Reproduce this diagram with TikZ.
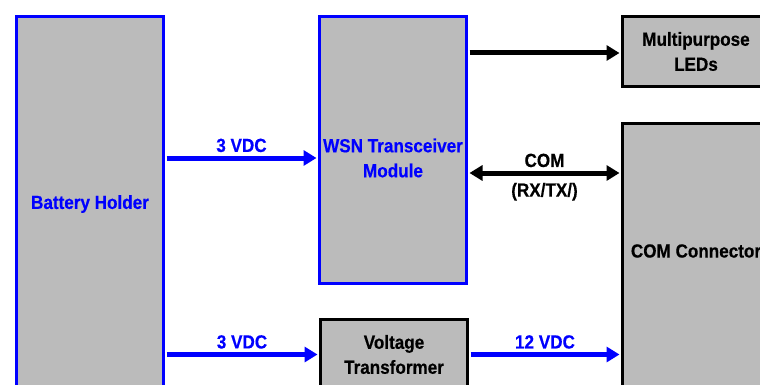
\documentclass[tikz,border=0pt]{standalone}
\usepackage{fontspec}
\setmainfont{Liberation Sans}[FakeStretch=0.9, BoldFeatures={FakeBold=0.4}]
\usetikzlibrary{arrows.meta}
\definecolor{boxgray}{HTML}{BBBBBB}

\begin{document}
\begin{tikzpicture}[x=1pt, y=-1pt,
  font=\fontsize{19}{25}\selectfont\bfseries,
  blk/.style={rectangle, draw, line width=3pt, fill=boxgray, minimum width=147pt, align=center},
  bigtri/.tip={Triangle[length=13pt, width=15pt]},
  pwr/.style={-bigtri, line width=5pt, blue, shorten <=1.5pt, shorten >=1.5pt},
  sig/.style={-bigtri, line width=5pt, shorten <=1.5pt, shorten >=1.5pt}]
  \clip (0,0) rectangle (760,385);

  \node[blk, draw=blue, text=blue, minimum height=375pt] (bat) at (90,204) {Battery Holder};
  \node[blk, draw=blue, minimum height=267pt,
        label={[text=blue, align=center, yshift=-8pt]center:{WSN Transceiver\\Module}}] (wsn) at (393,150) {};
  \node[blk, minimum height=70pt] (leds) at (696,51.5) {Multipurpose\\LEDs};
  \node[blk, minimum height=268pt,
        label={[yshift=6.5pt]center:COM Connector}] (com) at (696,257.5) {};
  \node[blk, minimum height=70pt] (vt) at (394,354.5) {Voltage\\Transformer};

  \coordinate (win) at ([yshift=-8pt]wsn.west);
  \coordinate (lin) at ([yshift=-1.5pt]leds.west);
  \coordinate (cin) at ([yshift=84.5pt]com.west);

  \draw[pwr] (bat.east |- win) -- node[above] {3 VDC} (win);
  \draw[pwr] (bat.east |- vt.west) -- node[above] {3 VDC} (vt.west);
  \draw[pwr] (vt.east) -- node[above] {12 VDC} (vt.east -| com.west);
  \draw[sig] (wsn.east |- lin) -- (lin);
  \draw[sig, bigtri-bigtri] (wsn.east |- cin) -- node[above] {COM} node[below=4pt] {(RX/TX/)} (cin);
\end{tikzpicture}
\end{document}
